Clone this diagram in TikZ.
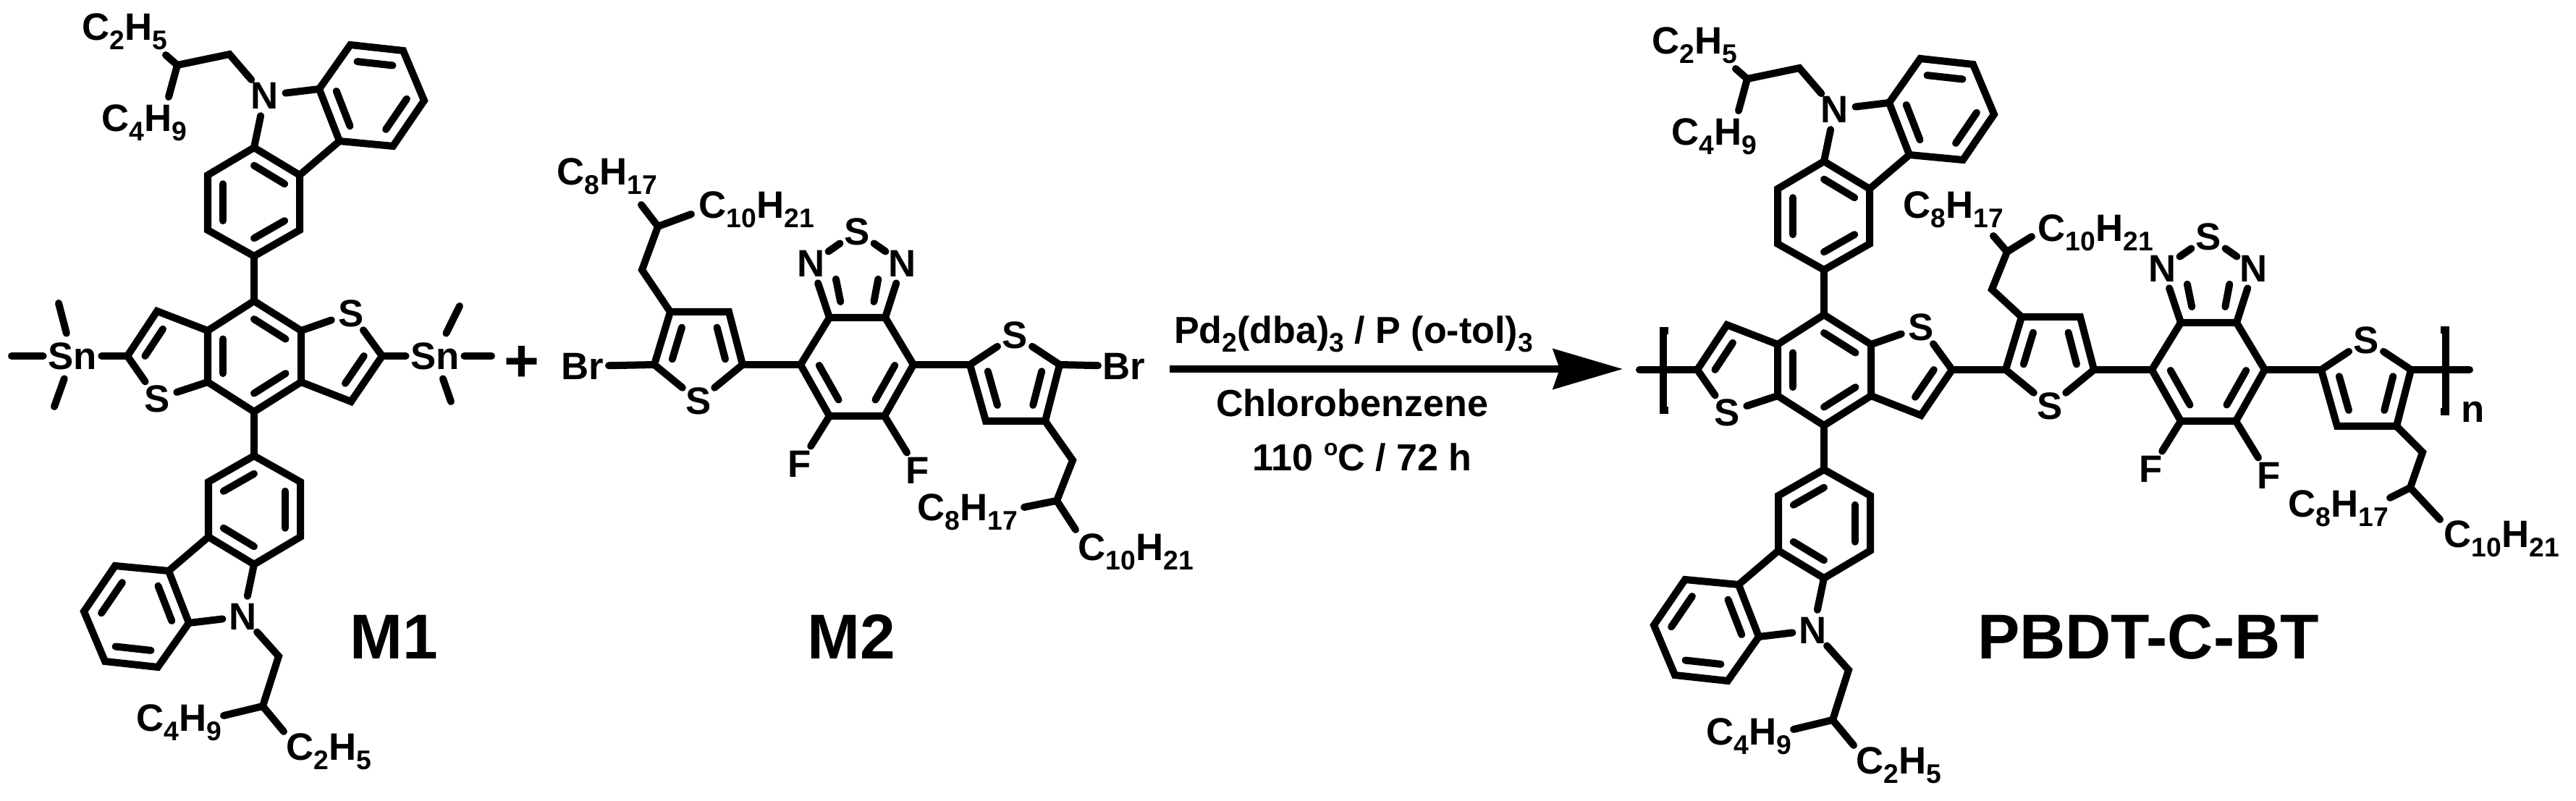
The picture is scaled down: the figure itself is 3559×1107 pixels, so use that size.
\documentclass[tikz,border=0pt]{standalone}
\usepackage{fontspec}
\setmainfont{Liberation Sans}
\usetikzlibrary{calc,arrows.meta}

\tikzstyle{bond}=[line width=0.1cm,line cap=round,black]
\tikzstyle{atom}=[circle,inner sep=0pt,minimum size=0.56cm,font=\bfseries\fontsize{15}{17}\selectfont]
\tikzstyle{wideatom}=[atom,rectangle,minimum size=0pt,inner xsep=0.06cm,inner ysep=0.12cm]
\tikzstyle{chain}=[anchor=base west,inner sep=0pt,font=\bfseries\fontsize{15}{17}\selectfont]
\tikzstyle{reagent}=[anchor=base,inner sep=0pt,font=\bfseries\fontsize{14.8}{17}\selectfont]
\tikzstyle{title}=[inner sep=0pt,font=\bfseries\fontsize{24.9}{28}\selectfont]

\newcommand{\lsub}[1]{\raisebox{-.23em}{\fontsize{10.6}{11}\selectfont #1}}
\newcommand{\dbond}[4][.33]{\path[bond] ($(#2)!#1!(#4)$) edge ($(#3)!#1!(#4)$);}

\newcommand{\carbarm}{
    \coordinate (a1) at (351,204);
    \coordinate (a2) at (414,242);
    \coordinate (a3) at (414,318);
    \coordinate (a4) at (351,354);
    \coordinate (a5) at (287,318);
    \coordinate (a6) at (287,242);
    \coordinate (oa) at (351,279);
    \coordinate (b1) at (441,123);
    \coordinate (b2) at (484,62);
    \coordinate (b3) at (557,70);
    \coordinate (b4) at (586,139);
    \coordinate (b5) at (543,202);
    \coordinate (b6) at (469,195);
    \coordinate (ob) at (513,132);
    \node[atom] (N) at (366,132) {N};
    \draw[bond] (a1)--(a2)--(a3)--(a4)--(a5)--(a6)--cycle;
    \draw[bond] (b1)--(b2)--(b3)--(b4)--(b5)--(b6)--cycle;
    \path[bond] (a2) edge (b6);
    \path[bond] (N)  edge (a1);
    \path[bond] (N)  edge (b1);
    \dbond{a1}{a2}{oa}
    \dbond{a3}{a4}{oa}
    \dbond{a5}{a6}{oa}
    \dbond{b2}{b3}{ob}
    \dbond{b4}{b5}{ob}
    \dbond{b6}{b1}{ob}
}

\newcommand{\bdtunit}[2]{
    \begin{scope}[shift={#2},name prefix=#1]
        \coordinate (c1) at (351,416);
        \coordinate (c2) at (416,457);
        \coordinate (c3) at (416,528);
        \coordinate (c4) at (351,569);
        \coordinate (c5) at (287,528);
        \coordinate (c6) at (287,457);
        \coordinate (oc) at (351,492);
        \coordinate (d1) at (217,430);
        \coordinate (d2) at (176,492);
        \coordinate (e1) at (485,555);
        \coordinate (e2) at (528,492);
        \coordinate (od) at (237,492);
        \coordinate (oe) at (465,492);
        \node[atom] (S1) at (485,433) {S};
        \node[atom] (S2) at (217,551) {S};
        \draw[bond] (c1)--(c2)--(c3)--(c4)--(c5)--(c6)--cycle;
        \draw[bond] (c6)--(d1)--(d2)--(S2);
        \draw[bond] (c3)--(e1)--(e2)--(S1);
        \path[bond] (c2) edge (S1);
        \path[bond] (c5) edge (S2);
        \dbond{c1}{c2}{oc}
        \dbond{c3}{c4}{oc}
        \dbond{c5}{c6}{oc}
        \dbond[.4]{d1}{d2}{od}
        \dbond[.4]{e1}{e2}{oe}
        \carbarm
        \path[bond] (a4) edge (c1);
        \begin{scope}[rotate around={180:(351,492)},name prefix=#1l-]
            \carbarm
        \end{scope}
        \path[bond] (c4) edge (l-a4);
        \coordinate (f1) at (317,75);
        \coordinate (f2) at (245,90);
        \coordinate (f3) at (229,76);
        \coordinate (f4) at (233,134);
        \draw[bond] (N)--(f1)--(f2)--(f3);
        \path[bond] (f2) edge (f4);
        \coordinate (g1) at (385,907);
        \coordinate (g2) at (363,976);
        \coordinate (g3) at (309,989);
        \coordinate (g4) at (392,1011);
        \draw[bond] (l-N)--(g1)--(g2)--(g3);
        \path[bond] (g2) edge (g4);
        \node[chain] (up-c2) at (113,56) {C\lsub{2}H\lsub{5}};
        \node[chain] (up-c4) at (140,182) {C\lsub{4}H\lsub{9}};
        \node[chain] (lo-c4) at (188,1011) {C\lsub{4}H\lsub{9}};
        \node[chain] (lo-c2) at (395,1051) {C\lsub{2}H\lsub{5}};
    \end{scope}
}

\newcommand{\btunit}[2]{
    \begin{scope}[shift={#2},name prefix=#1]
        \coordinate (t1) at (904,504);
        \coordinate (t2) at (926,431);
        \coordinate (t3) at (1007,431);
        \coordinate (t4) at (1026,504);
        \coordinate (ot) at (966,485);
        \node[atom] (tS) at (965,554) {S};
        \coordinate (r1) at (1106,504);
        \coordinate (r2) at (1146,439);
        \coordinate (r3) at (1223,439);
        \coordinate (r4) at (1262,504);
        \coordinate (r5) at (1222,575);
        \coordinate (r6) at (1146,575);
        \coordinate (or) at (1184,507);
        \coordinate (ok) at (1184,384);
        \node[atom] (n1) at (1121,364) {N};
        \node[atom] (n2) at (1247,364) {N};
        \node[atom] (bS) at (1184,320) {S};
        \node[atom] (F1) at (1105,641) {F};
        \node[atom] (F2) at (1268,650) {F};
        \coordinate (s1) at (1340,504);
        \coordinate (s2) at (1362,582);
        \coordinate (s3) at (1444,582);
        \coordinate (s4) at (1464,504);
        \coordinate (os) at (1402,527);
        \node[atom] (sS) at (1402,463) {S};
        \draw[bond] (tS)--(t1)--(t2)--(t3)--(t4)--(tS);
        \draw[bond] (r1)--(r2)--(r3)--(r4)--(r5)--(r6)--cycle;
        \draw[bond] (sS)--(s1)--(s2)--(s3)--(s4)--(sS);
        \path[bond] (t4) edge (r1);
        \path[bond] (r4) edge (s1);
        \path[bond] (r2) edge (n1);
        \path[bond] (r3) edge (n2);
        \path[bond] (n1) edge (bS);
        \path[bond] (n2) edge (bS);
        \path[bond] (r6) edge (F1);
        \path[bond] (r5) edge (F2);
        \dbond[.4]{t1}{t2}{ot}
        \dbond[.4]{t3}{t4}{ot}
        \dbond{r1}{r6}{or}
        \dbond{r4}{r5}{or}
        \dbond[.4]{s1}{s2}{os}
        \dbond[.4]{s3}{s4}{os}
        \path[bond,shorten >=0.12cm] ($(r2)!.4!(ok)$) edge ($(n1)!.5!(ok)$);
        \path[bond,shorten >=0.12cm] ($(r3)!.4!(ok)$) edge ($(n2)!.5!(ok)$);
    \end{scope}
}

\begin{document}
\begin{tikzpicture}[x=0.01cm,y=-0.01cm]
    \useasboundingbox (0,0) rectangle (3559,1107);

    \bdtunit{m1-}{(0,0)}
    \node[wideatom] (sn1) at (100,492) {Sn};
    \node[wideatom] (sn2) at (601,492) {Sn};
    \coordinate (me1) at (16,492);
    \coordinate (me2) at (81,419);
    \coordinate (me3) at (75,562);
    \coordinate (me4) at (679,492);
    \coordinate (me5) at (635,423);
    \coordinate (me6) at (623,555);
    \path[bond] (sn1) edge (m1-d2);
    \path[bond] (sn1) edge (me1);
    \path[bond] (sn1) edge (me2);
    \path[bond] (sn1) edge (me3);
    \path[bond] (sn2) edge (m1-e2);
    \path[bond] (sn2) edge (me4);
    \path[bond] (sn2) edge (me5);
    \path[bond] (sn2) edge (me6);
    \node[title] (m1) at (544,880) {M1};
    \node[inner sep=0pt,font=\bfseries\fontsize{23.8}{26}\selectfont] (plus) at (721,503) {+};

    \btunit{m2-}{(0,0)}
    \node[wideatom] (br1) at (805,506) {Br};
    \node[wideatom] (br2) at (1553,506) {Br};
    \path[bond] (m2-t1) edge (br1);
    \path[bond] (m2-s4) edge (br2);
    \coordinate (h1) at (887,373);
    \coordinate (h2) at (909,313);
    \coordinate (h3) at (886,283);
    \coordinate (h4) at (955,296);
    \draw[bond] (m2-t2)--(h1)--(h2)--(h3);
    \path[bond] (h2) edge (h4);
    \coordinate (k1) at (1482,636);
    \coordinate (k2) at (1460,692);
    \coordinate (k3) at (1415,701);
    \coordinate (k4) at (1486,732);
    \draw[bond] (m2-s3)--(k1)--(k2)--(k3);
    \path[bond] (k2) edge (k4);
    \node[chain] (hc8) at (769,256) {C\lsub{8}H\lsub{17}};
    \node[chain] (hc10) at (965,302) {C\lsub{10}H\lsub{21}};
    \node[chain] (kc8) at (1267,720) {C\lsub{8}H\lsub{17}};
    \node[chain] (kc10) at (1489,775) {C\lsub{10}H\lsub{21}};
    \node[title] (m2) at (1176,880) {M2};

    \coordinate (ar1) at (1616,510);
    \coordinate (ar2) at (2242,510);
    \draw[line width=0.1cm,-{Stealth[length=0.96cm,width=0.55cm,inset=0.09cm]}] (ar1) -- (ar2);
    \node[reagent] (cat) at (1870,475) {Pd\lsub{2}(dba)\lsub{3} / P (o-tol)\lsub{3}};
    \node[reagent] (sol) at (1868,576) {Chlorobenzene};
    \node[reagent] (con) at (1882,651) {110 \raisebox{.42em}{\fontsize{9}{10}\selectfont o}C / 72 h};

    \bdtunit{p-}{(2169,19)}
    \btunit{q-}{(1867,7)}
    \path[bond] (p-e2) edge (q-t1);
    \coordinate (h5) at (2752,400);
    \coordinate (h6) at (2773,348);
    \coordinate (h7) at (2754,326);
    \coordinate (h8) at (2807,327);
    \draw[bond] (q-t2)--(h5)--(h6)--(h7);
    \path[bond] (h6) edge (h8);
    \coordinate (k5) at (3347,625);
    \coordinate (k6) at (3330,674);
    \coordinate (k7) at (3302,688);
    \coordinate (k8) at (3371,718);
    \draw[bond] (q-s3)--(k5)--(k6)--(k7);
    \path[bond] (k6) edge (k8);
    \node[chain] (pc8) at (2629,302) {C\lsub{8}H\lsub{17}};
    \node[chain] (pc10) at (2815,334) {C\lsub{10}H\lsub{21}};
    \node[chain] (qc8) at (3161,715) {C\lsub{8}H\lsub{17}};
    \node[chain] (qc10) at (3376,757) {C\lsub{10}H\lsub{21}};
    \coordinate (lo1) at (2265,511);
    \coordinate (lo2) at (3412,511);
    \path[bond] (lo1) edge (p-d2);
    \path[bond] (q-s4) edge (lo2);
    \coordinate (la) at (2305,457);
    \coordinate (lb) at (2298,457);
    \coordinate (lc) at (2298,567);
    \coordinate (ld) at (2305,567);
    \draw[bond,line cap=butt] (la)--(lb)--(lc)--(ld);
    \coordinate (ra) at (3372,456);
    \coordinate (rb) at (3379,456);
    \coordinate (rc) at (3379,569);
    \coordinate (rd) at (3372,569);
    \draw[bond,line cap=butt] (ra)--(rb)--(rc)--(rd);
    \node[chain] (rep) at (3400,584) {n};
    \node[title] (pol) at (2968,880) {PBDT-C-BT};
\end{tikzpicture}
\end{document}
